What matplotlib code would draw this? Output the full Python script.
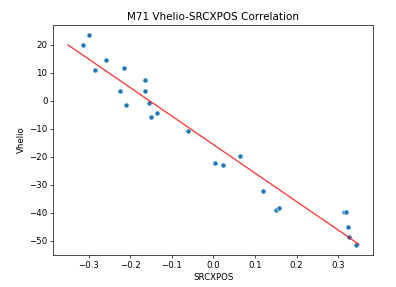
import numpy as np
import matplotlib
matplotlib.use("Agg")
import matplotlib.pyplot as plt

# SRCXPOS / Vhelio
srcxpos = [-0.315, -0.299, -0.285, -0.2575, -0.224, -0.215, -0.2095, -0.164, -0.164,
           -0.155, -0.1495, -0.136, -0.0614, 0.0048, 0.0226, 0.064, 0.1185, 0.1497,
           0.157, 0.3137, 0.320, 0.324, 0.327, 0.344]
vhelio = [19.9, 23.3, 10.9, 14.4, 3.3, 11.7, -1.4, 7.5, 3.3,
          -0.8, -5.8, -4.3, -10.8, -22.3, -23.1, -19.6, -32.3, -39.1,
          -38.4, -39.6, -39.6, -45.0, -48.6, -51.4]

# fitted line ends
fit_x = [-0.35, 0.35]
fit_y = [19.9, -51.3]

fig = plt.figure(figsize=(396 / 62, 287 / 62), dpi=62)
ax = fig.add_axes([0.135, 0.1115, 0.808, 0.8015])

ax.scatter(srcxpos, vhelio, s=36, color="#1f77b4", edgecolors="white", linewidths=0.75)
ax.plot(fit_x, fit_y, color="red", alpha=0.8)

ax.set_title("M71 Vhelio-SRCXPOS Correlation")
ax.set_xlabel("SRCXPOS")
ax.set_ylabel("Vhelio")

fig.savefig("out.png", dpi=62)
